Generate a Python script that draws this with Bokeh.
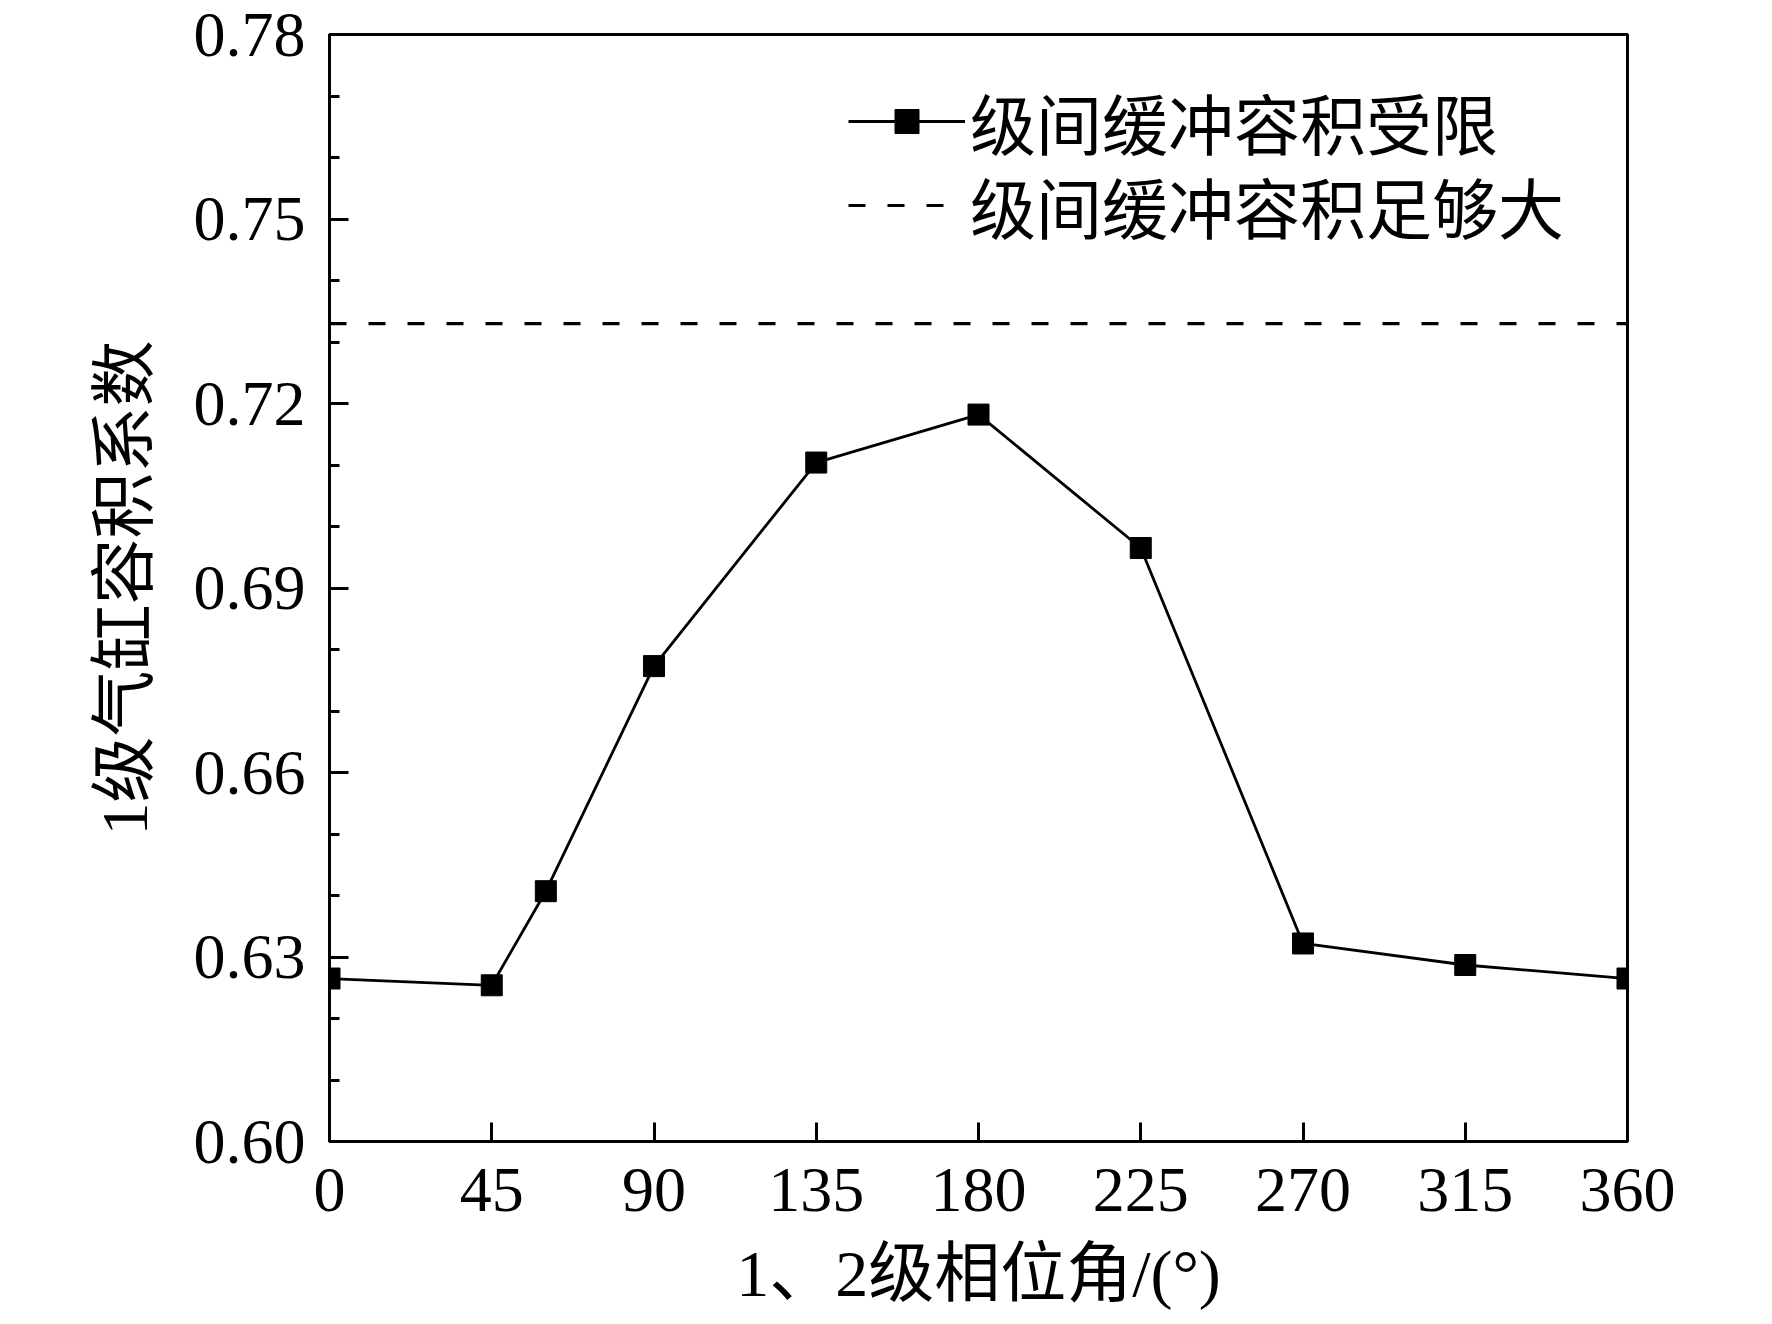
from bokeh.plotting import figure
from bokeh.models import Range1d, FixedTicker, NumeralTickFormatter, Legend, LegendItem
from bokeh.embed import file_html
from bokeh.resources import INLINE

# data
phase_angle = [0, 45, 60, 90, 135, 180, 225, 270, 315, 360]
coef_limited = [0.6265, 0.6254, 0.6407, 0.6773, 0.7104, 0.7182, 0.6965, 0.6322, 0.6287, 0.6265]
large_x = [0, 360]
large_y = [0.733, 0.733]
x_ticks = [0, 45, 90, 135, 180, 225, 270, 315, 360]
y_ticks = [0.60, 0.63, 0.66, 0.69, 0.72, 0.75, 0.78]
y_minor = [0.61, 0.62, 0.64, 0.65, 0.67, 0.68, 0.70, 0.71, 0.73, 0.74, 0.76, 0.77]
label_limited = "级间缓冲容积受限"
label_large = "级间缓冲容积足够大"
x_title = "1、2级相位角/(°)"
y_title = "1级气缸容积系数"

SERIF = "Liberation Serif, Noto Sans CJK SC"

W, H = 1756, 1312
p = figure(width=W, height=H, output_backend="svg", toolbar_location=None,
           x_range=Range1d(0, 360), y_range=Range1d(0.60, 0.78),
           min_border_left=329, min_border_right=W - 1627, min_border_top=34, min_border_bottom=H - 1146)
p.grid.visible = False
p.background_fill_color = "white"
p.border_fill_color = "white"
p.outline_line_color = "black"
p.outline_line_width = 3

r1 = p.line(phase_angle, coef_limited, line_color="black", line_width=2.8)
r1m = p.scatter(phase_angle, coef_limited, marker="square", size=21, fill_color="black", line_color="black")
r2 = p.line(large_x, large_y, line_color="black", line_width=3.2, line_dash="17 22")

for ax in (p.xaxis[0], p.yaxis[0]):
    ax.axis_line_width = 3
    ax.axis_line_color = "black"
    ax.major_tick_line_width = 3
    ax.minor_tick_line_width = 3
    ax.major_tick_in = 19
    ax.major_tick_out = 0
    ax.minor_tick_in = 10
    ax.minor_tick_out = 0
    ax.major_label_text_font = SERIF
    ax.major_label_text_font_size = "64px"
    ax.major_label_text_color = "black"
    ax.axis_label_text_font = SERIF
    ax.axis_label_text_font_size = "66px"
    ax.axis_label_text_font_style = "normal"
    ax.axis_label_text_color = "black"

p.xaxis.ticker = FixedTicker(ticks=x_ticks, minor_ticks=[])
p.yaxis.ticker = FixedTicker(ticks=y_ticks, minor_ticks=y_minor)
p.yaxis.formatter = NumeralTickFormatter(format="0.00")
p.xaxis.axis_label = x_title
p.yaxis.axis_label = y_title
p.xaxis.major_label_standoff = 27
p.yaxis.major_label_standoff = 24
p.xaxis.axis_label_standoff = 23
p.yaxis.axis_label_standoff = 30


def make_legend(label, renderers, loc):
    lg = Legend(items=[LegendItem(label=label, renderers=renderers)], location=loc)
    lg.border_line_color = None
    lg.background_fill_alpha = 0
    lg.padding = 0
    lg.margin = 0
    lg.spacing = 0
    lg.glyph_width = 117
    lg.glyph_height = 60
    lg.label_standoff = 5
    lg.label_text_font = SERIF
    lg.label_text_font_size = "66px"
    lg.label_text_color = "black"
    return lg


p.add_layout(make_legend(label_limited, [r1, r1m], (519, 972)))
p.add_layout(make_legend(label_large, [r2], (519, 888)))

open("out.html", "w").write(file_html(p, INLINE))
